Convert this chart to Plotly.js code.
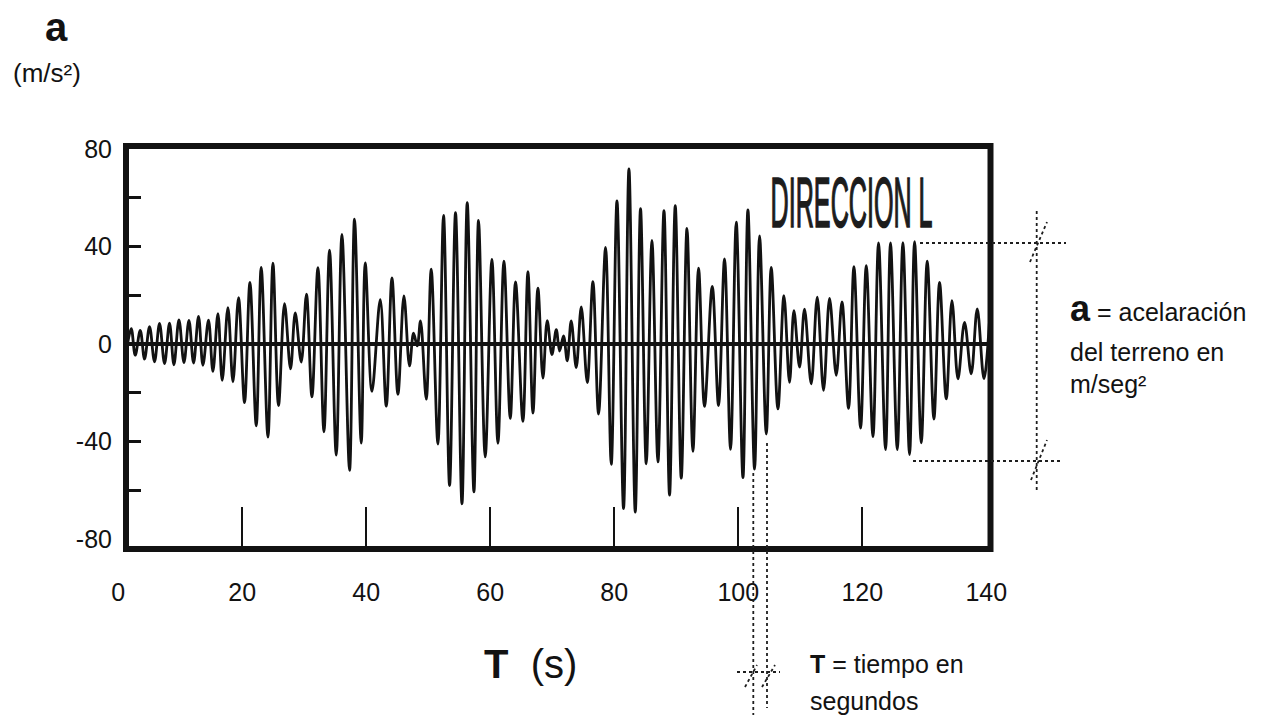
<!DOCTYPE html>
<html>
<head>
<meta charset="utf-8">
<script src="https://cdn.plot.ly/plotly-3.0.1.min.js"></script>
<style>html,body{margin:0;padding:0;background:#fff;}#chart{width:1264px;height:715px;}</style>
</head>
<body>
<div id="chart"></div>
<script>
// ---- data (alternating peaks and troughs) ----
const tiempo_s = [1.5,2.10,2.74,3.55,4.24,5.05,5.85,6.66,7.47,8.27,8.98,9.79,10.6,11.40,12.15,12.95,13.66,14.56,15.27,16.08,16.77,17.69,18.50,19.40,20.37,21.24,22.26,23.06,24.15,24.95,25.85,26.82,27.79,28.55,29.52,30.36,31.24,32.21,33.18,34.08,35.16,36.08,37.31,38.11,39.19,39.84,40.92,42.26,43.23,44.15,45.11,46.08,46.98,47.63,48.23,48.76,49.68,50.48,51.56,52.47,53.44,54.40,55.44,56.29,57.37,58.11,59.19,60.27,61.24,62.21,63.23,64.08,65.27,66.08,66.89,67.69,68.5,69.19,69.95,70.65,71.18,71.82,72.42,73.06,73.87,74.68,75.65,76.56,77.47,78.60,79.52,80.44,81.50,82.37,83.39,84.24,85.16,86.08,87.05,88.02,88.92,89.84,90.81,91.73,92.69,93.60,94.56,95.81,96.82,97.79,98.76,99.68,100.76,101.56,102.63,103.44,104.52,105.32,106.40,107.37,108.27,108.98,109.89,110.69,111.77,112.74,113.76,114.73,115.81,116.73,117.79,118.66,119.73,120.65,121.73,122.63,123.76,124.56,125.65,126.56,127.63,128.44,129.52,130.48,131.56,132.47,133.55,134.47,135.44,136.50,137.58,138.55,139.63,140.53];
const aceleracion = [0,6.3,-4.6,5.6,-6.2,7.1,-7.3,8.4,-8.0,8.5,-8.5,9.9,-7.6,9.7,-7.8,11.3,-8.7,9.8,-11.2,12.4,-14.9,14.9,-15.5,19.0,-24.0,25.2,-33.5,31.4,-38.2,33.1,-25.2,16.5,-10.2,12.7,-7.4,20.4,-21.7,31.3,-36.0,38.5,-45.5,44.9,-51.8,51.2,-40.6,33.2,-19.4,18.2,-25.5,27.1,-20.6,19.7,-9.0,4.4,-0.8,9.5,-22.6,30.7,-41.0,52.7,-58.0,53.8,-65.5,57.9,-60.6,50.7,-46.3,34.7,-40.7,34.0,-30.5,25.5,-31.7,29.7,-28.3,22.9,-14.0,9.6,-4.3,5.9,-2.9,3.3,-6.9,9.5,-9.7,15.2,-15.8,25.6,-28.7,39.6,-49.3,58.7,-67.5,71.8,-68.9,55.5,-49.1,42.5,-48.3,54.7,-61.9,56.7,-55.0,47.4,-44.0,31.1,-25.6,23.6,-25.2,34.9,-43.2,49.9,-54.8,55.0,-51.3,44.3,-36.9,31.4,-26.6,19.8,-15.7,13.7,-9.5,14.3,-16.3,19.2,-19.0,18.7,-12.8,17.3,-26.4,31.7,-34.5,32.1,-38.0,41.4,-43.3,41.4,-43.3,41.5,-45.3,41.9,-40.5,34.0,-30.8,25.2,-22.5,17.8,-14.3,8.9,-12.2,14.4,-14.2,9.7];
const xTickLabels = [0,20,40,60,80,100,120,140];
const xInnerTicks = [20,40,60,80,100,120];
const yTickLabels = [80,40,0,-40,-80];
const yInnerTicks = [-60,-40,-20,20,40,60];

// ---- layout helpers (pixel -> paper) ----
const L=117, R=993, T=146, B=549, W=R-L, H=B-T;
const PX = x => (x-L)/W;
const PY = y => (B-y)/H;
const FONT = 'Liberation Sans, Arial, Helvetica, sans-serif';
const INK = '#121212';

const xr = [-0.2, 141.09];
const yr = [-84.02, 81.15];

const traces = [
  {x: tiempo_s, y: aceleracion, type:'scatter', mode:'lines',
   line:{color:INK, width:2.8, shape:'spline', smoothing:1},
   hoverinfo:'skip', showlegend:false},
  {x:[null], y:[null], xaxis:'x2', yaxis:'y', type:'scatter', mode:'lines', hoverinfo:'skip', showlegend:false},
  {x:[null], y:[null], xaxis:'x', yaxis:'y2', type:'scatter', mode:'lines', hoverinfo:'skip', showlegend:false}
];

function dotted(x0,y0,x1,y1){
  return {type:'line', xref:'paper', yref:'paper', x0:PX(x0), y0:PY(y0), x1:PX(x1), y1:PY(y1),
          line:{color:'#1e1e1e', width:1.8, dash:'dot'}};
}

const shapes = [
  // zero line
  {type:'line', xref:'paper', yref:'y', x0:PX(126), x1:PX(990), y0:0, y1:0, line:{color:INK, width:4}, layer:'below'},
  // frame
  {type:'rect', xref:'paper', yref:'paper', x0:PX(126), x1:PX(990.5), y0:PY(549), y1:PY(146), line:{color:INK, width:6}},
  // right dimension marks (a)
  dotted(920,243,1066,243),
  dotted(913,461,1063,461),
  dotted(1036.7,211,1036.7,490),
  dotted(1030,262,1047,222),
  dotted(1031,480,1047,440),
  // bottom dimension marks (T)
  dotted(753.3,473,753.3,715),
  dotted(767,443,767,708),
  dotted(737,672,780,672),
  dotted(745,687,757,665),
  dotted(762,687,775,665)
];

function ann(x,y,text,size,opts){
  return Object.assign({xref:'paper', yref:'paper', x:PX(x), y:PY(y), text:text, showarrow:false,
    xanchor:'center', yanchor:'middle', font:{family:FONT, size:size, color:INK}}, opts||{});
}

const annotations = [
  ann(56,27,'<b>a</b>',40),
  ann(47,73,'(m/s²)',26),
  ann(851,203,'DIRECCION L',70,{font:{family:FONT, size:70, color:'#1c1c1c'}}),
  ann(1068,308,'<span style="font-size:36px"><b>a</b></span> = acelaración',25,{xanchor:'left'}),
  ann(1068,352,'del terreno en',25,{xanchor:'left'}),
  ann(1068,384,'m/seg²',25,{xanchor:'left'}),
  ann(530,664,'<b>T</b>\u00A0 (s)',40),
  ann(808,664,'<b>T</b> = tiempo en',25,{xanchor:'left'}),
  ann(808,701,'segundos',25,{xanchor:'left'})
];

const layout = {
  width:1264, height:715,
  margin:{l:L, r:1264-R, t:T, b:715-B, pad:0},
  paper_bgcolor:'#fff', plot_bgcolor:'#fff',
  showlegend:false,
  font:{family:FONT, color:INK},
  xaxis:{range:xr, tickmode:'array', tickvals:xTickLabels, ticktext:xTickLabels.map(String),
         ticks:'', showline:false, showgrid:false, zeroline:false, fixedrange:true,
         tickfont:{family:FONT, size:25, color:INK}, ticklabelstandoff:26},
  xaxis2:{range:xr, overlaying:'x', anchor:'y', side:'bottom', tickmode:'array', tickvals:xInnerTicks,
          ticks:'inside', ticklen:42, tickwidth:2, tickcolor:INK, showticklabels:false,
          showline:false, showgrid:false, zeroline:false, fixedrange:true},
  yaxis:{range:yr, tickmode:'array', tickvals:yTickLabels, ticktext:yTickLabels.map(String),
         anchor:'free', position:PX(126), ticks:'', showline:false, showgrid:false, zeroline:false,
         fixedrange:true, tickfont:{family:FONT, size:25, color:INK}, ticklabelstandoff:14},
  yaxis2:{range:yr, overlaying:'y', anchor:'free', position:PX(126), side:'left', tickmode:'array',
          tickvals:yInnerTicks, ticks:'inside', ticklen:14, tickwidth:3, tickcolor:INK,
          showticklabels:false, showline:false, showgrid:false, zeroline:false, fixedrange:true},
  shapes:shapes,
  annotations:annotations
};

Plotly.newPlot('chart', traces, layout, {displayModeBar:false, staticPlot:true}).then(function(gd){
  // condense the "DIRECCION L" label horizontally to the plotter-style lettering width
  const els = gd.querySelectorAll('text.annotation-text');
  els.forEach(function(el){
    if(el.textContent.trim() === 'DIRECCION L'){
      const bb = el.getBBox();
      const cx = bb.x + bb.width/2;
      const s = 162 / bb.width;
      const prev = el.getAttribute('transform') || '';
      el.setAttribute('transform', prev + ' translate(' + cx + ',0) scale(' + s + ',1) translate(' + (-cx) + ',0)');
      el.style.stroke = '#1c1c1c';
      el.style.strokeWidth = '1.3px';
      el.style.vectorEffect = 'non-scaling-stroke';
    }
  });
});
</script>
</body>
</html>
